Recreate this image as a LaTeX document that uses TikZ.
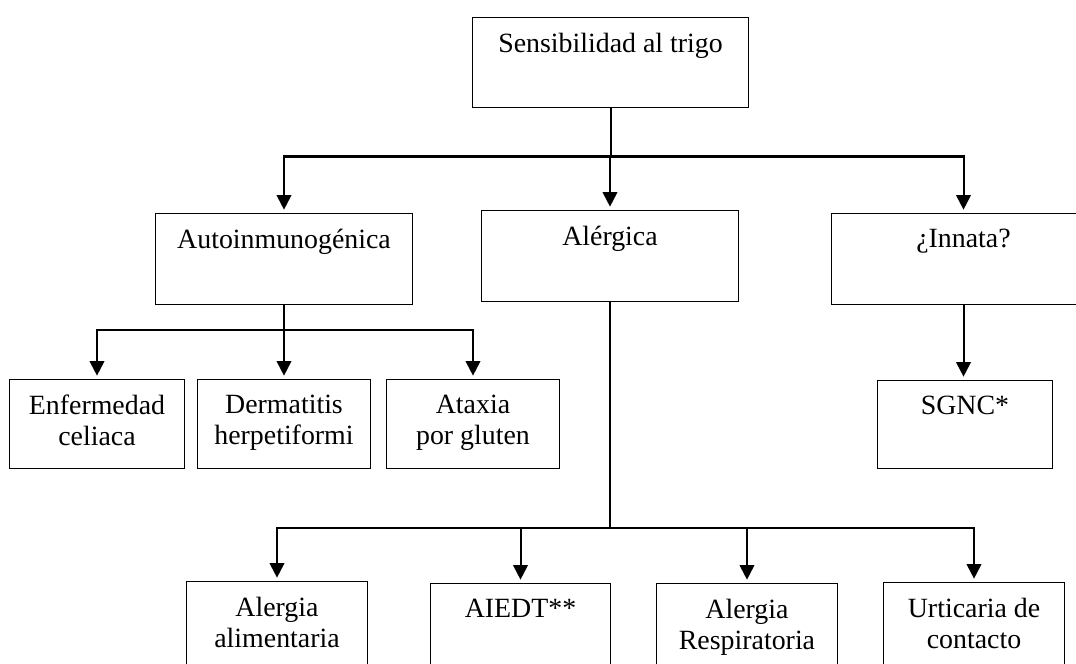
\documentclass[tikz,border=0pt]{standalone}
\usepackage{fontspec}
\setmainfont{Liberation Serif}
\usetikzlibrary{arrows.meta,positioning}
\tikzset{>={Triangle[width=11pt,length=11pt]}}
\newcommand\px{0.75pt}
\tikzset{
  caja/.style 2 args={draw, line width=0.75pt, anchor=north west, inner sep=0pt,
    minimum width=#1*\px, minimum height=#2*\px},
  rotulo/.style={inner sep=0pt, align=center, font=\fontsize{20.9}{23}\selectfont},
  linea/.style={line width=1.5pt},
  barra/.style={line width=2.25pt},
  flecha/.style={linea, ->, shorten >=2.5pt}
}
\begin{document}
\begin{tikzpicture}[x=0.75pt, y=-0.75pt]

  \useasboundingbox (0,0) rectangle (1076,664);
  \clip (0,0) rectangle (1076,664);

  \node[caja={276}{90}] (sens) at (472,17) {};
  \node[caja={257}{91}] (autoinm) at (155,213) {};
  \node[caja={257}{91}] (alergica) at (481,210) {};
  \node[caja={264}{91}] (innata) at (831,213) {};

  \node[caja={175}{89}] (enf) at (9,379) {};
  \node[caja={173}{89}] (derm) at (197,379) {};
  \node[caja={173}{89}] (atax) at (386,379) {};
  \node[caja={175}{88}] (sgnc) at (877,380) {};

  \node[caja={181}{90}] (alim) at (186,581) {};
  \node[caja={180}{90}] (aiedt) at (430,583) {};
  \node[caja={181}{90}] (resp) at (656,583) {};
  \node[caja={181}{90}] (urtic) at (883,582) {};

  \node[rotulo, below=12pt of sens.north] (senst) {Sensibilidad al trigo};
  \node[rotulo, below=12pt of autoinm.north] (autoinmt) {Autoinmunogénica};
  \node[rotulo, below=12pt of alergica.north] (alergicat) {Alérgica};
  \node[rotulo, below=12pt of innata.north] (innatat) {¿Innata?};
  \node[rotulo, below=12pt of enf.north] (enft) {Enfermedad\\celiaca};
  \node[rotulo, below=12pt of derm.north] (dermt) {Dermatitis\\herpetiformi};
  \node[rotulo, below=12pt of atax.north] (ataxt) {Ataxia\\por gluten};
  \node[rotulo, below=12pt of sgnc.north] (sgnct) {SGNC*};
  \node[rotulo, below=12pt of alim.north] (alimt) {Alergia\\alimentaria};
  \node[rotulo, below=12pt of aiedt.north] (aiedtt) {AIEDT**};
  \node[rotulo, below=12pt of resp.north] (respt) {Alergia\\Respiratoria};
  \node[rotulo, below=12pt of urtic.north] (urtict) {Urticaria de\\contacto};

  \coordinate (b1) at (610,156);
  \coordinate (b2) at (283,330);
  \coordinate (b3) at (609,528);

  \draw[linea] (sens.south) -- (sens.south |- b1);
  \draw[barra] (autoinm.north |- b1) -- (innata.north |- b1);
  \foreach \n in {autoinm,alergica,innata}
    \draw[flecha, shorten <=-1.1pt] (\n.north |- b1) -- (\n.north);

  \draw[linea] (autoinm.south) -- (autoinm.south |- b2);
  \draw[flecha, shorten <=2.5pt, <->] (enf.north) -- (enf.north |- b2)
    -- (atax.north |- b2) -- (atax.north);
  \draw[flecha] (derm.north |- b2) -- (derm.north);

  \draw[flecha] (innata.south) -- (innata.south |- sgnc.north);

  \draw[linea] (alergica.south) -- (alergica.south |- b3);
  \draw[flecha, shorten <=2.5pt, <->] (alim.north) -- (alim.north |- b3)
    -- (urtic.north |- b3) -- (urtic.north);
  \foreach \n in {aiedt,resp}
    \draw[flecha] (\n.north |- b3) -- (\n.north);

\end{tikzpicture}
\end{document}
